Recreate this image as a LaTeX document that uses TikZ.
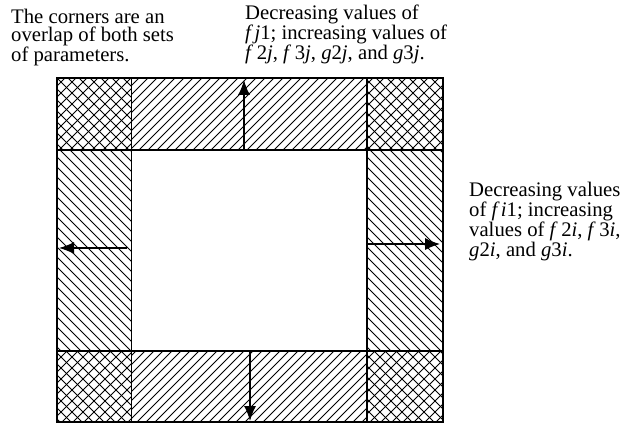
\documentclass[tikz,border=0pt]{standalone}
\usepackage{fontspec}
\setmainfont{Liberation Serif}
\usetikzlibrary{arrows.meta}
\newcommand{\mv}[2]{\textit{#1}\kern1.2pt\textit{#2}}
\begin{document}
\begin{tikzpicture}[x=1pt,y=-1pt,
  hatch/.style={line width=0.9pt},
  frame/.style={line width=1.7pt},
  grid/.style={line width=1.5pt},
  arr/.style={line width=1.3pt,-{Latex[length=15pt,width=12pt]}},
  lbl/.style={anchor=north west,inner sep=0pt,align=left,
    font=\fontsize{20.7}{18.2}\selectfont}]
\useasboundingbox (0,0) rectangle (620,427);
% key coordinates
\coordinate (O1) at (57,78);
\coordinate (O2) at (443,422);
% "/" hatching: top and bottom bars
\begin{scope}
  \clip (131.5,78) rectangle (367,150) (131.5,351) rectangle (367,422);
  \foreach \k in {100,109,...,900} \draw[hatch] (\k,0) -- ++(-450,450);
\end{scope}
% "\" hatching: left and right bars
\begin{scope}
  \clip (57,150) rectangle (131.5,351) (367,150) rectangle (443,351);
  \foreach \k in {-450,-440,...,450} \draw[hatch] (\k,0) -- ++(450,450);
\end{scope}
% crosshatch corners
\begin{scope}
  \clip (57,78) rectangle (131.5,150) (367,78) rectangle (443,150)
        (57,351) rectangle (131.5,422) (367,351) rectangle (443,422);
  \foreach \k in {0,11,...,900} \draw[hatch] (\k,0) -- ++(-450,450);
  \foreach \k in {-450,-439,...,450} \draw[hatch] (\k,0) -- ++(450,450);
\end{scope}
% frame and grid lines
\draw[grid] (131.5,78) -- (131.5,422);
\draw[grid] (367,78) -- (367,422);
\draw[grid] (57,150) -- (443,150);
\draw[grid] (57,351) -- (443,351);
\draw[frame] (O1) rectangle (O2);
% arrows
\coordinate (tA) at (244,150); \coordinate (tB) at (244,80);
\coordinate (bA) at (250,351); \coordinate (bB) at (250,421);
\coordinate (lA) at (127,248); \coordinate (lB) at (59,248);
\coordinate (rA) at (367,244); \coordinate (rB) at (440,244);
\draw[arr] (tA) -- (tB);
\draw[arr] (bA) -- (bB);
\draw[arr] (lA) -- (lB);
\draw[arr] (rA) -- (rB);
% labels
\node[lbl] (corners) at (11,9) {The corners are an\\overlap of both sets\\of parameters.};
\node[lbl] (toplbl) at (245,5) {Decreasing values of\\\mv{f}{j}1; increasing values of\\\textit{f}\,2\textit{j}, \textit{f}\,3\textit{j}, \textit{g}2\textit{j}, and \textit{g}3\textit{j}.};
\node[lbl] (rightlbl) at (469,182) {Decreasing values\\of \mv{f}{i}1; increasing\\values of \textit{f}\,2\textit{i}, \textit{f}\,3\textit{i},\\\textit{g}2\textit{i}, and \textit{g}3\textit{i}.};
\end{tikzpicture}
\end{document}
